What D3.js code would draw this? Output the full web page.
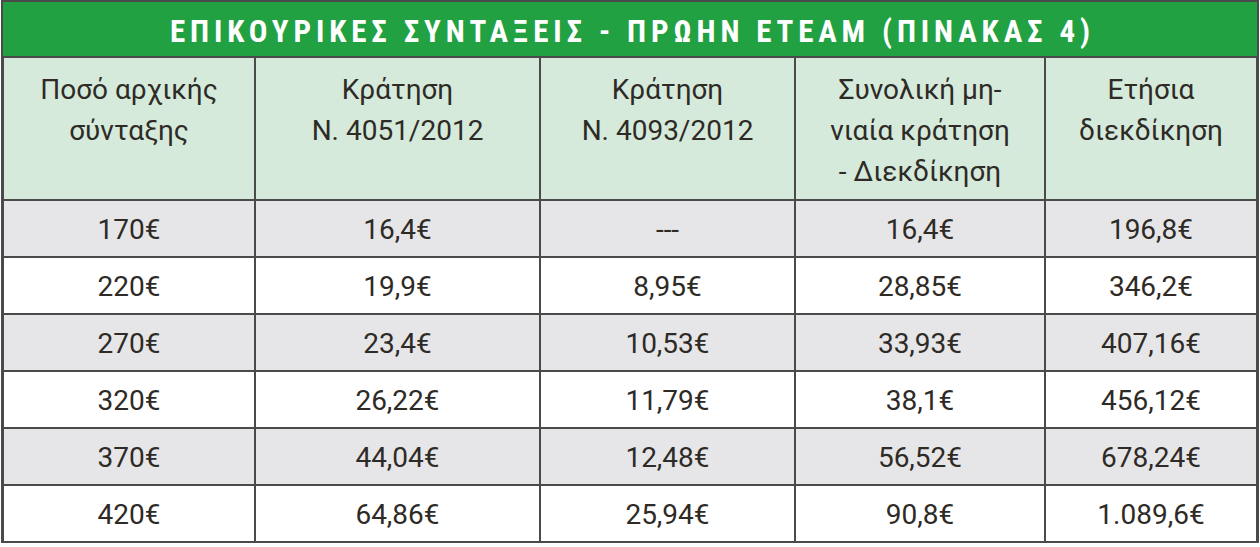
<!DOCTYPE html>
<html><head><meta charset="utf-8">
<script src="https://cdn.jsdelivr.net/npm/d3@7"></script>
<style>body{margin:0;background:#fff}text{font-family:"Roboto","Liberation Sans",sans-serif}</style>
</head><body><div id="chart"></div>
<script>
const width = 1260, height = 547;
const title = "ΕΠΙΚΟΥΡΙΚΕΣ ΣΥΝΤΑΞΕΙΣ - ΠΡΩΗΝ ΕΤΕΑΜ (ΠΙΝΑΚΑΣ 4)";
const headers = [
  ["Ποσό αρχικής", "σύνταξης"],
  ["Κράτηση", "Ν. 4051/2012"],
  ["Κράτηση", "Ν. 4093/2012"],
  ["Συνολική μη-", "νιαία κράτηση", "- Διεκδίκηση"],
  ["Ετήσια", "διεκδίκηση"]
];
const pension = ["170€", "220€", "270€", "320€", "370€", "420€"];
const cut4051 = ["16,4€", "19,9€", "23,4€", "26,22€", "44,04€", "64,86€"];
const cut4093 = ["---", "8,95€", "10,53€", "11,79€", "12,48€", "25,94€"];
const monthly = ["16,4€", "28,85€", "33,93€", "38,1€", "56,52€", "90,8€"];
const yearly = ["196,8€", "346,2€", "407,16€", "456,12€", "678,24€", "1.089,6€"];

const rows = pension.map((p, i) => [p, cut4051[i], cut4093[i], monthly[i], yearly[i]]);
const colEdges = [3, 255, 540, 795, 1045, 1257];
const x = d3.scaleOrdinal().domain(d3.range(5)).range(colEdges.slice(0, 5));
const y = d3.scaleLinear().domain([0, 6]).range([200, 542]);
const rowH = y(1) - y(0);
const textCol = "#2e2a26", line = "#4a4a4a";

const svg = d3.select("#chart").append("svg").attr("width", width).attr("height", height);

// title bar
svg.append("rect").attr("x", 2).attr("y", 1).attr("width", 1256).attr("height", 56).attr("fill", "#22a143");
svg.append("text").attr("x", 630).attr("y", 42).attr("text-anchor", "middle")
  .attr("fill", "#fff").attr("font-weight", "bold").attr("font-size", 31).attr("font-stretch", "condensed")
  .attr("textLength", 920).text(title);

// header
const hg = svg.append("g");
headers.forEach((h, c) => {
  hg.append("rect").attr("x", x(c)).attr("y", 58).attr("width", colEdges[c + 1] - x(c)).attr("height", 142).attr("fill", "#d5eadb");
  h.forEach((t, k) => hg.append("text").attr("x", (x(c) + colEdges[c + 1]) / 2).attr("y", 99 + k * 41)
    .attr("text-anchor", "middle").attr("font-size", 28).attr("fill", textCol).text(t));
});

// body
rows.forEach((r, i) => {
  r.forEach((v, c) => {
    svg.append("rect").attr("x", x(c)).attr("y", y(i)).attr("width", colEdges[c + 1] - x(c)).attr("height", rowH)
      .attr("fill", i % 2 === 0 ? "#e6e6e8" : "#fff");
    svg.append("text").attr("x", (x(c) + colEdges[c + 1]) / 2).attr("y", y(i) + rowH / 2 + 10)
      .attr("text-anchor", "middle").attr("font-size", 28).attr("fill", textCol).text(v);
  });
});

// grid lines
colEdges.forEach(cx => svg.append("line").attr("x1", cx).attr("x2", cx).attr("y1", 57).attr("y2", 542)
  .attr("stroke", line).attr("stroke-width", 2));
[57, ...d3.range(7).map(y)].forEach(ly => svg.append("line").attr("x1", 2).attr("x2", 1258)
  .attr("y1", ly).attr("y2", ly).attr("stroke", line).attr("stroke-width", 2));
svg.append("rect").attr("x", 2).attr("y", 1).attr("width", 1256).attr("height", 541)
  .attr("fill", "none").attr("stroke", line).attr("stroke-width", 2);
</script></body></html>
